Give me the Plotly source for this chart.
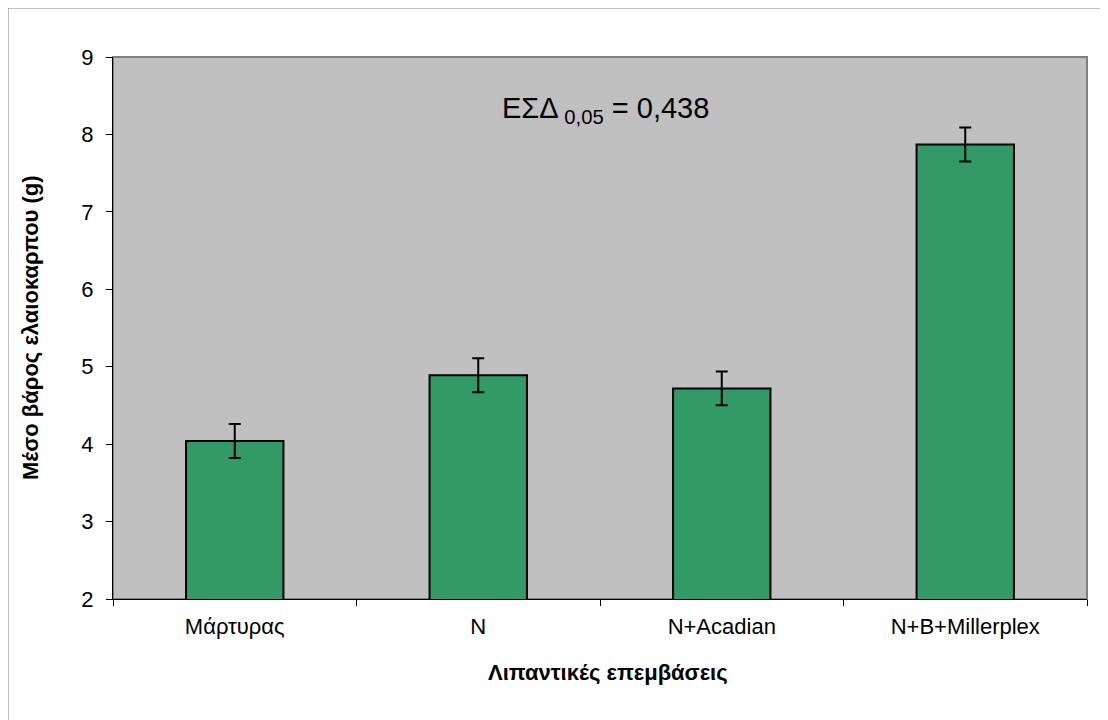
import plotly.graph_objects as go

categories = ["Μάρτυρας", "N", "N+Acadian", "N+B+Millerplex"]
mean_weight = [4.04, 4.89, 4.72, 7.87]
error = [0.219, 0.219, 0.219, 0.219]
y_ticks = [2, 3, 4, 5, 6, 7, 8, 9]

# page is rendered with an 8px body margin, so compensate
OFF = 8
W, H = 1108 - OFF, 720 - OFF
PL, PR, PT, PB = 113, 1087, 57, 599  # plot area in page pixels
L, T = PL - OFF, PT - OFF
R = W - (PR - OFF)
B = H - (PB - OFF)
pw, ph = PR - PL, PB - PT

def px_x(p):
    return (p - PL) / pw

def px_y(p):
    return (PB - p) / ph

font = "Liberation Sans, Arial, sans-serif"

fig = go.Figure()
fig.add_trace(go.Bar(
    x=categories, y=mean_weight,
    marker=dict(color="#339966", line=dict(color="black", width=2)),
    error_y=dict(type="data", array=error, visible=True, color="black", thickness=2, width=6),
    width=0.4,
))

fig.update_layout(
    width=W, height=H,
    margin=dict(l=L, r=R, t=T, b=B, pad=0),
    paper_bgcolor="white",
    plot_bgcolor="#C0C0C0",
    showlegend=False,
    font=dict(family=font, color="black", size=22),
    xaxis=dict(
        tickson="boundaries", ticks="outside", ticklen=6, tickcolor="black",
        showline=True, linecolor="black", linewidth=1, showgrid=False,
        tickfont=dict(size=22, family=font), ticklabelstandoff=8,
    ),
    yaxis=dict(
        range=[2, 9], tickvals=y_ticks, ticks="outside", ticklen=6, tickcolor="black",
        showline=True, linecolor="black", linewidth=1, showgrid=False, zeroline=False,
        tickfont=dict(size=22, family=font), ticklabelstandoff=8,
    ),
    shapes=[
        dict(type="rect", xref="paper", yref="paper", x0=0, x1=1, y0=0, y1=1,
             line=dict(color="#808080", width=2), layer="below"),
        dict(type="rect", xref="paper", yref="paper",
             x0=px_x(8), x1=px_x(1130), y0=px_y(740), y1=px_y(8),
             line=dict(color="#808080", width=1), layer="below"),
    ],
    annotations=[
        dict(xref="paper", yref="paper", x=px_x(605), y=px_y(110),
             xanchor="center", yanchor="middle",
             text="ΕΣΔ<sub> 0,05</sub> = 0,438", showarrow=False,
             font=dict(size=29, family=font, color="black")),
        dict(xref="paper", yref="paper", x=px_x(30), y=px_y(328),
             xanchor="center", yanchor="middle",
             text="<b>Μέσο βάρος ελαιοκαρπου (g)</b>", showarrow=False, textangle=-90,
             font=dict(size=22, family=font, color="black")),
        dict(xref="paper", yref="paper", x=px_x(608), y=px_y(672),
             xanchor="center", yanchor="middle",
             text="<b>Λιπαντικές επεμβάσεις</b>", showarrow=False,
             font=dict(size=22, family=font, color="black")),
    ],
)

fig.write_html("out.html")
